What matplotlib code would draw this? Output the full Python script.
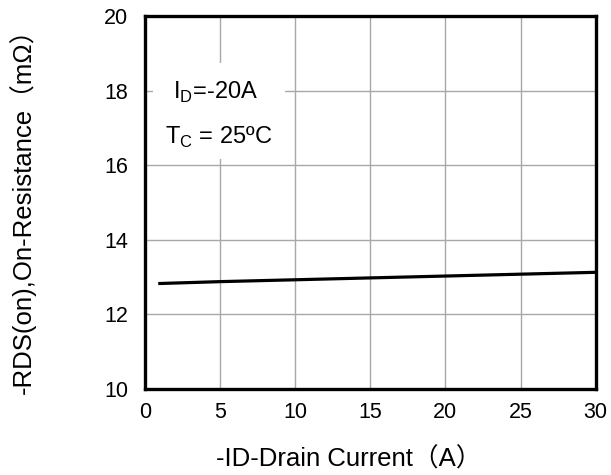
import matplotlib.pyplot as plt
from matplotlib.patches import Rectangle

plt.rcParams['font.family'] = ['Liberation Sans', 'Noto Sans CJK SC', 'DejaVu Sans']

# -ID drain current (A) vs on-resistance (mOhm)
current = [1, 5, 10, 15, 20, 25, 30]
rds_on = [12.83, 12.88, 12.93, 12.98, 13.03, 13.08, 13.13]

x_ticks = [0, 5, 10, 15, 20, 25, 30]
y_ticks = [10, 12, 14, 16, 18, 20]

fig = plt.figure(figsize=(6.11, 4.75), dpi=100)
ax = fig.add_axes([0.237, 0.181, 0.738, 0.785])

ax.plot(current, rds_on, color='black', lw=2.3, zorder=3)

ax.set_xlim(0, 30)
ax.set_ylim(10, 20)
ax.set_xticks(x_ticks)
ax.set_yticks(y_ticks)
ax.tick_params(length=0, labelsize=15.5)
ax.tick_params(axis='x', pad=9)
ax.tick_params(axis='y', pad=12)
ax.grid(True, color='#a8a8a8', lw=1)
ax.set_axisbelow(True)
for s in ax.spines.values():
    s.set_linewidth(2.4)

# white box behind the annotation
ax.add_patch(Rectangle((0.53, 16.17), 8.78, 2.57, facecolor='white', edgecolor='none', zorder=2))
ax.text(1.86, 17.96, r'I$_\mathregular{D}$=-20A', fontsize=17, va='center', zorder=4)
ax.text(1.33, 16.76, r'T$_\mathregular{C}$ = 25ºC', fontsize=17, va='center', zorder=4)

ax.set_xlabel('-ID-Drain Current（A）', fontsize=18.5)
ax.xaxis.set_label_coords(0.452, -0.155)
ax.set_ylabel('-RDS(on),On-Resistance（mΩ）', fontsize=18.5)
ax.yaxis.set_label_coords(-0.242, 0.495)

fig.savefig('out.png', dpi=100)
